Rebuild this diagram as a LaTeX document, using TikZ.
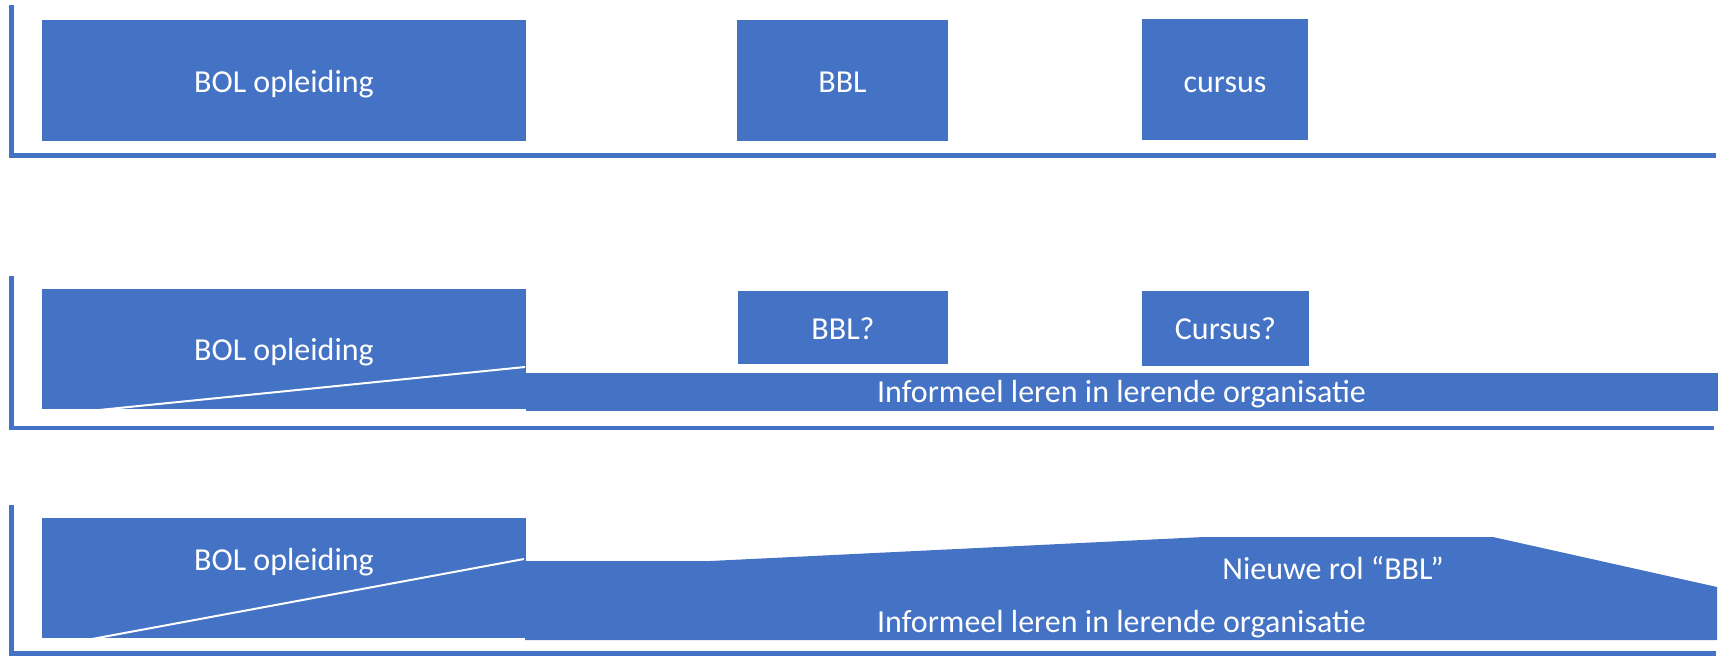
\documentclass[tikz,border=0pt]{standalone}
\usepackage{fontspec}
\setmainfont{Carlito}
\definecolor{blu}{HTML}{4472C4}
\begin{document}
\begin{tikzpicture}[x=1pt,y=-1pt,
  axis/.style={draw=blu, line width=4.5pt, line join=miter},
  blk/.style={fill=blu},
  lbl/.style={text=white, font=\fontsize{32}{38}\selectfont, anchor=base, inner sep=0pt},
  cut/.style={draw=white, line width=2pt}]
\useasboundingbox (0,0) rectangle (1719,656);
% axes
\draw[axis] (11.5,5) -- (11.5,155.5) -- (1716,155.5);
\draw[axis] (11.5,276) -- (11.5,428) -- (1714,428);
\draw[axis] (11.5,505) -- (11.5,653.5) -- (1716,653.5);
% panel 1
\fill[blk] (42,20) rectangle (526,140.5);
\node[lbl] (bol1) at (284,92) {BOL opleiding};
\fill[blk] (737,20) rectangle (948,140.5);
\node[lbl] (bbl1) at (842.5,92) {BBL};
\fill[blk] (1142,19) rectangle (1308,139.5);
\node[lbl] (cur1) at (1225,92) {cursus};
% panel 2
\fill[blk] (42,289) rectangle (526,409);
\fill[blk] (526,373) rectangle (1718,411);
\draw[cut] (99,410) -- (525,367);
\node[lbl] (bol2) at (284,360) {BOL opleiding};
\fill[blk] (738,290.5) rectangle (948,364);
\node[lbl] (bbl2) at (843,339) {BBL?};
\fill[blk] (1142,291) rectangle (1309,365.5);
\node[lbl] (cur2) at (1225.5,339) {Cursus?};
\node[lbl] (inf2) at (1121.5,402) {Informeel leren in lerende organisatie};
% panel 3
\fill[blk] (42,518) rectangle (526,638);
\fill[blk] (525,561) -- (710,561) -- (1204,537) -- (1493,537) -- (1717,587) -- (1717,640) -- (525,640) -- cycle;
\draw[cut] (92,639) -- (524,559);
\node[lbl] (bol3) at (284,570) {BOL opleiding};
\node[lbl] (rol3) at (1333,579) {Nieuwe rol “BBL”};
\node[lbl] (inf3) at (1121.5,632.5) {Informeel leren in lerende organisatie};
\end{tikzpicture}
\end{document}
